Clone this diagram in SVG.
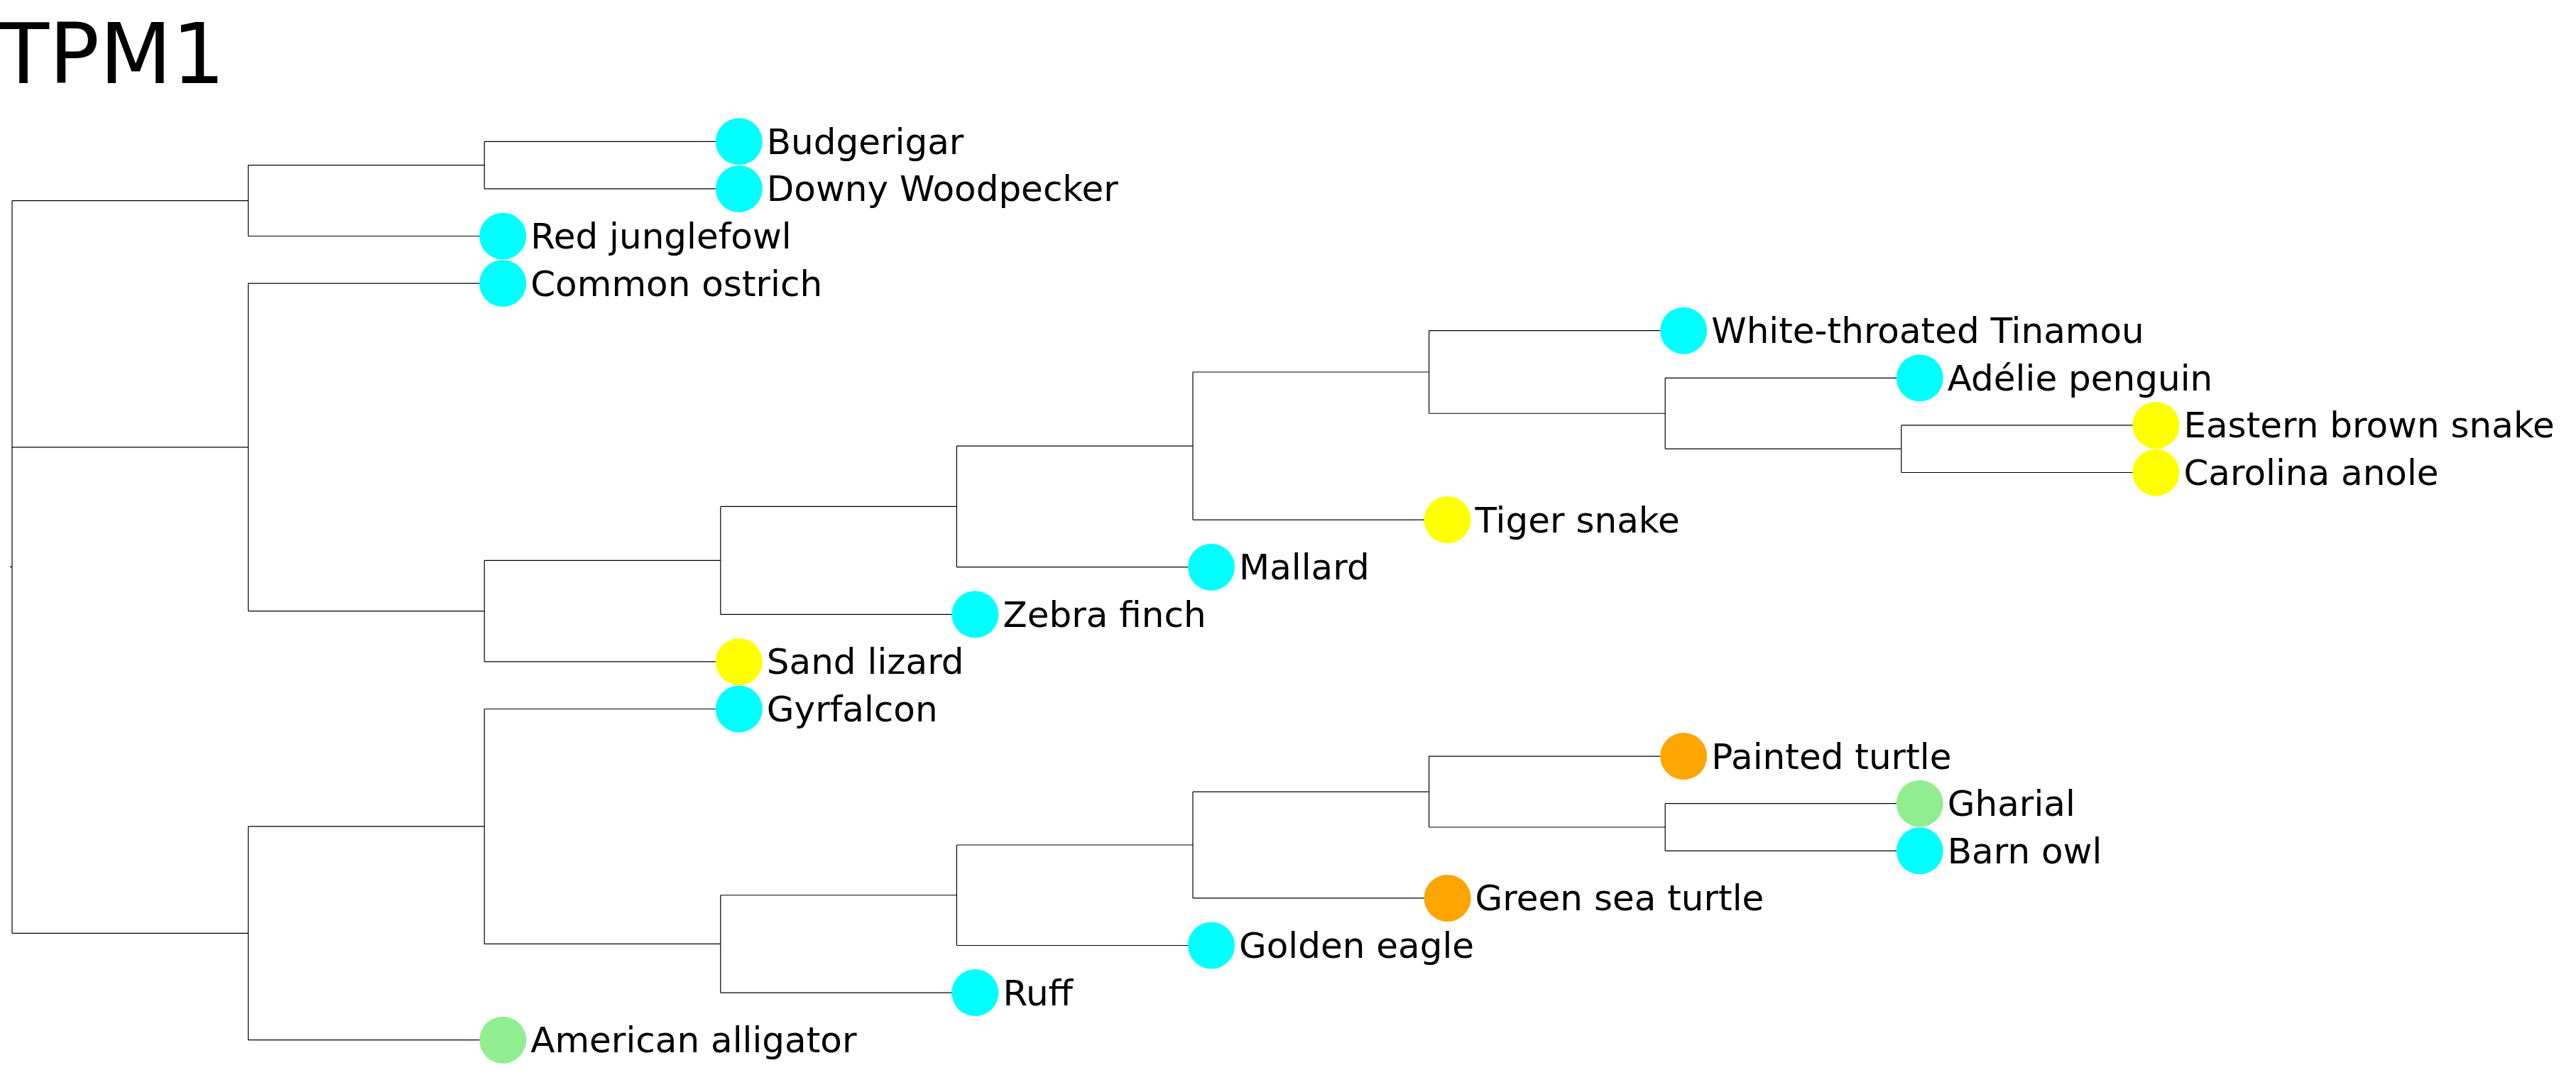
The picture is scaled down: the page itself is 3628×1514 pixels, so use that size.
<svg xmlns="http://www.w3.org/2000/svg" width="3628" height="1514" viewBox="0 0 3628 1514">
  <style>
    .edge { fill: none; stroke: #000; stroke-width: 1.2; }
    .label { font-family: "DejaVu Sans", "Liberation Sans", sans-serif; font-size: 50px; fill: #000; }
    .title { font-family: "DejaVu Sans", "Liberation Sans", sans-serif; font-size: 118px; fill: #000; }
    .bird { fill: #00ffff; }
    .squamate { fill: #ffff00; }
    .turtle { fill: #ffa500; }
    .croc { fill: #90ee90; }
  </style>
  <rect width="3628" height="1514" fill="#fff"/>
  <text class="title" x="-3" y="117">TPM1</text>

  <g id="connectors">
    <!-- root (trifurcation) -->
    <path class="edge" d="M14,798.4H17 M17,282.55V1314.3 M17,282.55H349.6 M17,629.85H349.6 M17,1314.3H349.6"/>
    <!-- clade A -->
    <path class="edge" d="M349.6,232.6V332.5 M349.6,232.6H682.2 M349.6,332.5H682.2"/>
    <path class="edge" d="M682.2,199.3V265.9 M682.2,199.3H1014.8 M682.2,265.9H1014.8"/>
    <!-- clade B -->
    <path class="edge" d="M349.6,399.1V860.6 M349.6,399.1H682.2 M349.6,860.6H682.2"/>
    <path class="edge" d="M682.2,789.35V931.9 M682.2,789.35H1014.8 M682.2,931.9H1014.8"/>
    <path class="edge" d="M1014.8,713.4V865.3 M1014.8,713.4H1347.4 M1014.8,865.3H1347.4"/>
    <path class="edge" d="M1347.4,628.05V798.7 M1347.4,628.05H1680 M1347.4,798.7H1680"/>
    <path class="edge" d="M1680,524V732.1 M1680,524H2012.6 M1680,732.1H2012.6"/>
    <path class="edge" d="M2012.6,465.7V582.25 M2012.6,465.7H2345.2 M2012.6,582.25H2345.2"/>
    <path class="edge" d="M2345.2,532.3V632.2 M2345.2,532.3H2677.8 M2345.2,632.2H2677.8"/>
    <path class="edge" d="M2677.8,598.9V665.5 M2677.8,598.9H3010.4 M2677.8,665.5H3010.4"/>
    <!-- clade C -->
    <path class="edge" d="M349.6,1163.95V1464.7 M349.6,1163.95H682.2 M349.6,1464.7H682.2"/>
    <path class="edge" d="M682.2,998.5V1329.4 M682.2,998.5H1014.8 M682.2,1329.4H1014.8"/>
    <path class="edge" d="M1014.8,1260.75V1398.1 M1014.8,1260.75H1347.4 M1014.8,1398.1H1347.4"/>
    <path class="edge" d="M1347.4,1190V1331.5 M1347.4,1190H1680 M1347.4,1331.5H1680"/>
    <path class="edge" d="M1680,1115.05V1264.9 M1680,1115.05H2012.6 M1680,1264.9H2012.6"/>
    <path class="edge" d="M2012.6,1065.1V1165 M2012.6,1065.1H2345.2 M2012.6,1165H2345.2"/>
    <path class="edge" d="M2345.2,1131.7V1198.3 M2345.2,1131.7H2677.8 M2345.2,1198.3H2677.8"/>
  </g>

  <g id="budgerigar"><circle class="bird" cx="1040.8" cy="199.3" r="33"/><text class="label" x="1079.8" y="216.8">Budgerigar</text></g>
  <g id="downy-woodpecker"><circle class="bird" cx="1040.8" cy="265.9" r="33"/><text class="label" x="1079.8" y="283.4">Downy Woodpecker</text></g>
  <g id="red-junglefowl"><circle class="bird" cx="708.2" cy="332.5" r="33"/><text class="label" x="747.2" y="350">Red junglefowl</text></g>
  <g id="common-ostrich"><circle class="bird" cx="708.2" cy="399.1" r="33"/><text class="label" x="747.2" y="416.6">Common ostrich</text></g>
  <g id="white-throated-tinamou"><circle class="bird" cx="2371.2" cy="465.7" r="33"/><text class="label" x="2410.2" y="483.2">White-throated Tinamou</text></g>
  <g id="adelie-penguin"><circle class="bird" cx="2703.8" cy="532.3" r="33"/><text class="label" x="2742.8" y="549.8">Adélie penguin</text></g>
  <g id="eastern-brown-snake"><circle class="squamate" cx="3036.4" cy="598.9" r="33"/><text class="label" x="3075.4" y="616.4">Eastern brown snake</text></g>
  <g id="carolina-anole"><circle class="squamate" cx="3036.4" cy="665.5" r="33"/><text class="label" x="3075.4" y="683">Carolina anole</text></g>
  <g id="tiger-snake"><circle class="squamate" cx="2038.6" cy="732.1" r="33"/><text class="label" x="2077.6" y="749.6">Tiger snake</text></g>
  <g id="mallard"><circle class="bird" cx="1706" cy="798.7" r="33"/><text class="label" x="1745" y="816.2">Mallard</text></g>
  <g id="zebra-finch"><circle class="bird" cx="1373.4" cy="865.3" r="33"/><text class="label" x="1412.4" y="882.8">Zebra finch</text></g>
  <g id="sand-lizard"><circle class="squamate" cx="1040.8" cy="931.9" r="33"/><text class="label" x="1079.8" y="949.4">Sand lizard</text></g>
  <g id="gyrfalcon"><circle class="bird" cx="1040.8" cy="998.5" r="33"/><text class="label" x="1079.8" y="1016">Gyrfalcon</text></g>
  <g id="painted-turtle"><circle class="turtle" cx="2371.2" cy="1065.1" r="33"/><text class="label" x="2410.2" y="1082.6">Painted turtle</text></g>
  <g id="gharial"><circle class="croc" cx="2703.8" cy="1131.7" r="33"/><text class="label" x="2742.8" y="1149.2">Gharial</text></g>
  <g id="barn-owl"><circle class="bird" cx="2703.8" cy="1198.3" r="33"/><text class="label" x="2742.8" y="1215.8">Barn owl</text></g>
  <g id="green-sea-turtle"><circle class="turtle" cx="2038.6" cy="1264.9" r="33"/><text class="label" x="2077.6" y="1282.4">Green sea turtle</text></g>
  <g id="golden-eagle"><circle class="bird" cx="1706" cy="1331.5" r="33"/><text class="label" x="1745" y="1349">Golden eagle</text></g>
  <g id="ruff"><circle class="bird" cx="1373.4" cy="1398.1" r="33"/><text class="label" x="1412.4" y="1415.6">Ruff</text></g>
  <g id="american-alligator"><circle class="croc" cx="708.2" cy="1464.7" r="33"/><text class="label" x="747.2" y="1482.2">American alligator</text></g>
</svg>
